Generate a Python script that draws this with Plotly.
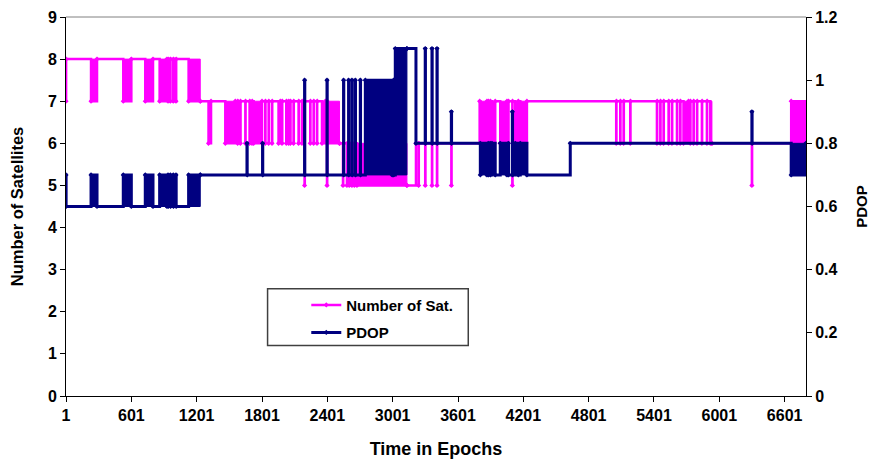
import plotly.graph_objects as go

# ---------------- data ----------------
X_MAX = 6797
x_tick_vals = [1, 601, 1201, 1801, 2401, 3001, 3601, 4201, 4801, 5401, 6001, 6601]

# Number of satellites: level runs (start epoch -> value)
sat_run_epoch = [1, 2, 1234, 2513, 3132, 3215, 3800, 5933]
sat_run_value = [7, 8, 7, 6, 5, 6, 7, 6]

# single-epoch excursions
sat_spike_epoch = [938, 959, 986, 1011,
                   1577, 1602, 1648, 1687, 1709, 1831, 1862, 1893, 1985, 2024, 2045,
                   2061, 2091, 2137, 2168, 2192, 2244, 2275, 2306, 2398,
                   2545, 2581, 2602, 2627, 2649, 3239, 3300, 3362, 3408, 3540,
                   3879, 3897, 4063, 4100,
                   5054, 5091, 5122, 5183, 5428, 5459, 5489, 5535, 5566, 5612, 5642,
                   5734, 5764, 5796, 5841, 5887, 6300]
sat_spike_value = [7, 7, 7, 7,
                   6, 6, 6, 6, 6, 6, 6, 6, 6, 6, 6,
                   6, 6, 6, 6, 5, 6, 6, 6, 5,
                   5, 5, 5, 5, 5, 5, 5, 5, 5, 5,
                   6, 6, 6, 5,
                   6, 6, 6, 6, 6, 6, 6, 6, 6, 6, 6,
                   6, 6, 6, 6, 6, 5]

# rapidly alternating stretches (start, end, low, high)
sat_band_start = [231, 527, 729, 861, 1127, 1310, 1464, 1724, 1953, 2352, 2400, 2673,
                  3806, 3913, 3989, 4127, 4173, 5672, 5918, 6661]
sat_band_end = [286, 601, 800, 928, 1234, 1333, 1556, 1801, 1969, 2382, 2513, 3132,
                3867, 3943, 4051, 4155, 4234, 5718, 5933, 6797]
sat_band_low = [7, 7, 7, 7, 7, 6, 6, 6, 6, 6, 6, 5,
                6, 6, 6, 6, 6, 6, 6, 6]
sat_band_high = [8, 8, 8, 8, 8, 7, 7, 7, 7, 7, 7, 6,
                 7, 7, 7, 7, 7, 7, 7, 7]

# PDOP
pdop_run_epoch = [1, 2, 1234, 3132, 3215, 3806, 4632]
pdop_run_value = [0.7, 0.6, 0.7, 1.1, 0.8, 0.7, 0.8]

pdop_spike_epoch = [938, 959, 986, 1011, 1663, 1806, 2192, 2398,
                    2550, 2596, 2627, 2658, 2704, 3009,
                    3300, 3362, 3408, 3540, 3879, 3897, 4063, 4100, 6300]
pdop_spike_value = [0.7, 0.7, 0.7, 0.7, 0.8, 0.8, 1.0, 1.0,
                    1.0, 1.0, 1.0, 1.0, 1.0, 1.0,
                    1.1, 1.1, 1.1, 0.9, 0.8, 0.8, 0.8, 0.9, 0.9]

pdop_band_start = [231, 527, 729, 861, 1127, 2750, 3025, 3806, 3913, 3989, 4127, 4173, 6661]
pdop_band_end = [286, 601, 800, 928, 1234, 2997, 3132, 3867, 3943, 4051, 4155, 4234, 6797]
pdop_band_low = [0.6, 0.6, 0.6, 0.6, 0.6, 0.7, 0.7, 0.7, 0.7, 0.7, 0.7, 0.7, 0.7]
pdop_band_high = [0.7, 0.7, 0.7, 0.7, 0.7, 1.0, 1.1, 0.8, 0.8, 0.8, 0.8, 0.8, 0.8]

SAT_COLOR = "#FF00FF"
PDOP_COLOR = "#000080"
FONT_NARROW = "Liberation Sans Narrow, Liberation Sans, Arial, sans-serif"
FONT_SANS = "Liberation Sans, Arial, sans-serif"


# ---------------- helpers ----------------
def base_at(ep, run_e, run_v):
    v = run_v[0]
    for e, val in zip(run_e, run_v):
        if e <= ep:
            v = val
    return v


def build_series(run_e, run_v, spk_e, spk_v, b_s, b_e, b_lo, b_hi, width=2):
    ev = list(zip(run_e, run_v))
    for e, v in zip(spk_e, spk_v):
        ev.append((e, v))
        ev.append((e + width, base_at(e + width, run_e, run_v)))
    for s, e, lo, hi in zip(b_s, b_e, b_lo, b_hi):
        b = base_at(s, run_e, run_v)
        ev.append((s, hi if b == lo else lo))
        ev.append((e, base_at(e, run_e, run_v)))
    ev.sort(key=lambda t: t[0])
    ev.append((X_MAX, ev[-1][1]))
    return [p[0] for p in ev], [p[1] for p in ev]


def band_polys(b_s, b_e, b_lo, b_hi):
    xs, ys = [], []
    for s, e, lo, hi in zip(b_s, b_e, b_lo, b_hi):
        xs += [s, e, e, s, s, None]
        ys += [lo, lo, hi, hi, lo, None]
    return xs, ys


sat_x, sat_y = build_series(sat_run_epoch, sat_run_value, sat_spike_epoch, sat_spike_value,
                            sat_band_start, sat_band_end, sat_band_low, sat_band_high)
pdop_x, pdop_y = build_series(pdop_run_epoch, pdop_run_value, pdop_spike_epoch, pdop_spike_value,
                              pdop_band_start, pdop_band_end, pdop_band_low, pdop_band_high)
sbx, sby = band_polys(sat_band_start, sat_band_end, sat_band_low, sat_band_high)
pbx, pby = band_polys(pdop_band_start, pdop_band_end, pdop_band_low, pdop_band_high)

fig = go.Figure()
fig.add_trace(go.Scatter(x=sbx, y=sby, fill="toself", fillcolor=SAT_COLOR, mode="lines",
                         line=dict(color=SAT_COLOR, width=1), showlegend=False,
                         hoverinfo="skip", yaxis="y"))
fig.add_trace(go.Scatter(x=sat_x, y=sat_y, name="Number of Sat.", mode="lines+markers",
                         line=dict(color=SAT_COLOR, width=2.5, shape="hv"),
                         marker=dict(symbol="diamond", size=4, color=SAT_COLOR),
                         legendgroup="a", yaxis="y"))
fig.add_trace(go.Scatter(x=pbx, y=pby, fill="toself", fillcolor=PDOP_COLOR, mode="lines",
                         line=dict(color=PDOP_COLOR, width=1), showlegend=False,
                         hoverinfo="skip", yaxis="y2"))
fig.add_trace(go.Scatter(x=pdop_x, y=pdop_y, name="PDOP", mode="lines+markers",
                         line=dict(color=PDOP_COLOR, width=3, shape="hv"),
                         marker=dict(symbol="diamond", size=4, color=PDOP_COLOR),
                         legendgroup="b", yaxis="y2"))

axis_common = dict(showline=True, linecolor="black", linewidth=1, ticks="outside",
                   ticklen=5, tickcolor="black", showgrid=False, zeroline=False,
                   automargin=False,
                   tickfont=dict(family=FONT_NARROW, size=16, color="black", weight="bold"))

fig.update_layout(
    width=870, height=459,
    margin=dict(l=66, r=64, t=17, b=63),
    plot_bgcolor="white", paper_bgcolor="white",
    xaxis=dict(range=[1, X_MAX], tickvals=x_tick_vals, **axis_common,
               title=dict(text="Time in Epochs", standoff=20,
                          font=dict(family=FONT_NARROW, size=18, color="black", weight="bold"))),
    yaxis=dict(range=[0, 9], dtick=1, **axis_common,
               title=dict(text="Number of Satellites", standoff=20,
                          font=dict(family=FONT_SANS, size=16.5, color="black", weight="bold"))),
    yaxis2=dict(range=[0, 1.2], dtick=0.2, overlaying="y", side="right", **axis_common,
                title=dict(text="PDOP", standoff=19,
                           font=dict(family=FONT_SANS, size=15, color="black", weight="bold"))),
    showlegend=True,
    legend=dict(x=0.3247, y=0.2833, xanchor="left", yanchor="top",
                bgcolor="rgba(0,0,0,0)", borderwidth=0, traceorder="grouped",
                tracegroupgap=5,
                font=dict(family=FONT_SANS, size=15, color="black", weight="bold")),
    shapes=[
        dict(type="line", xref="paper", yref="paper", x0=0, x1=1, y0=1, y1=1,
             line=dict(color="#808080", width=1)),
        dict(type="rect", xref="paper", yref="paper", x0=0.2724, x1=0.5436,
             y0=0.1332, y1=0.2828, line=dict(color="#404040", width=1.5)),
    ],
)

fig.write_html("out.html")
